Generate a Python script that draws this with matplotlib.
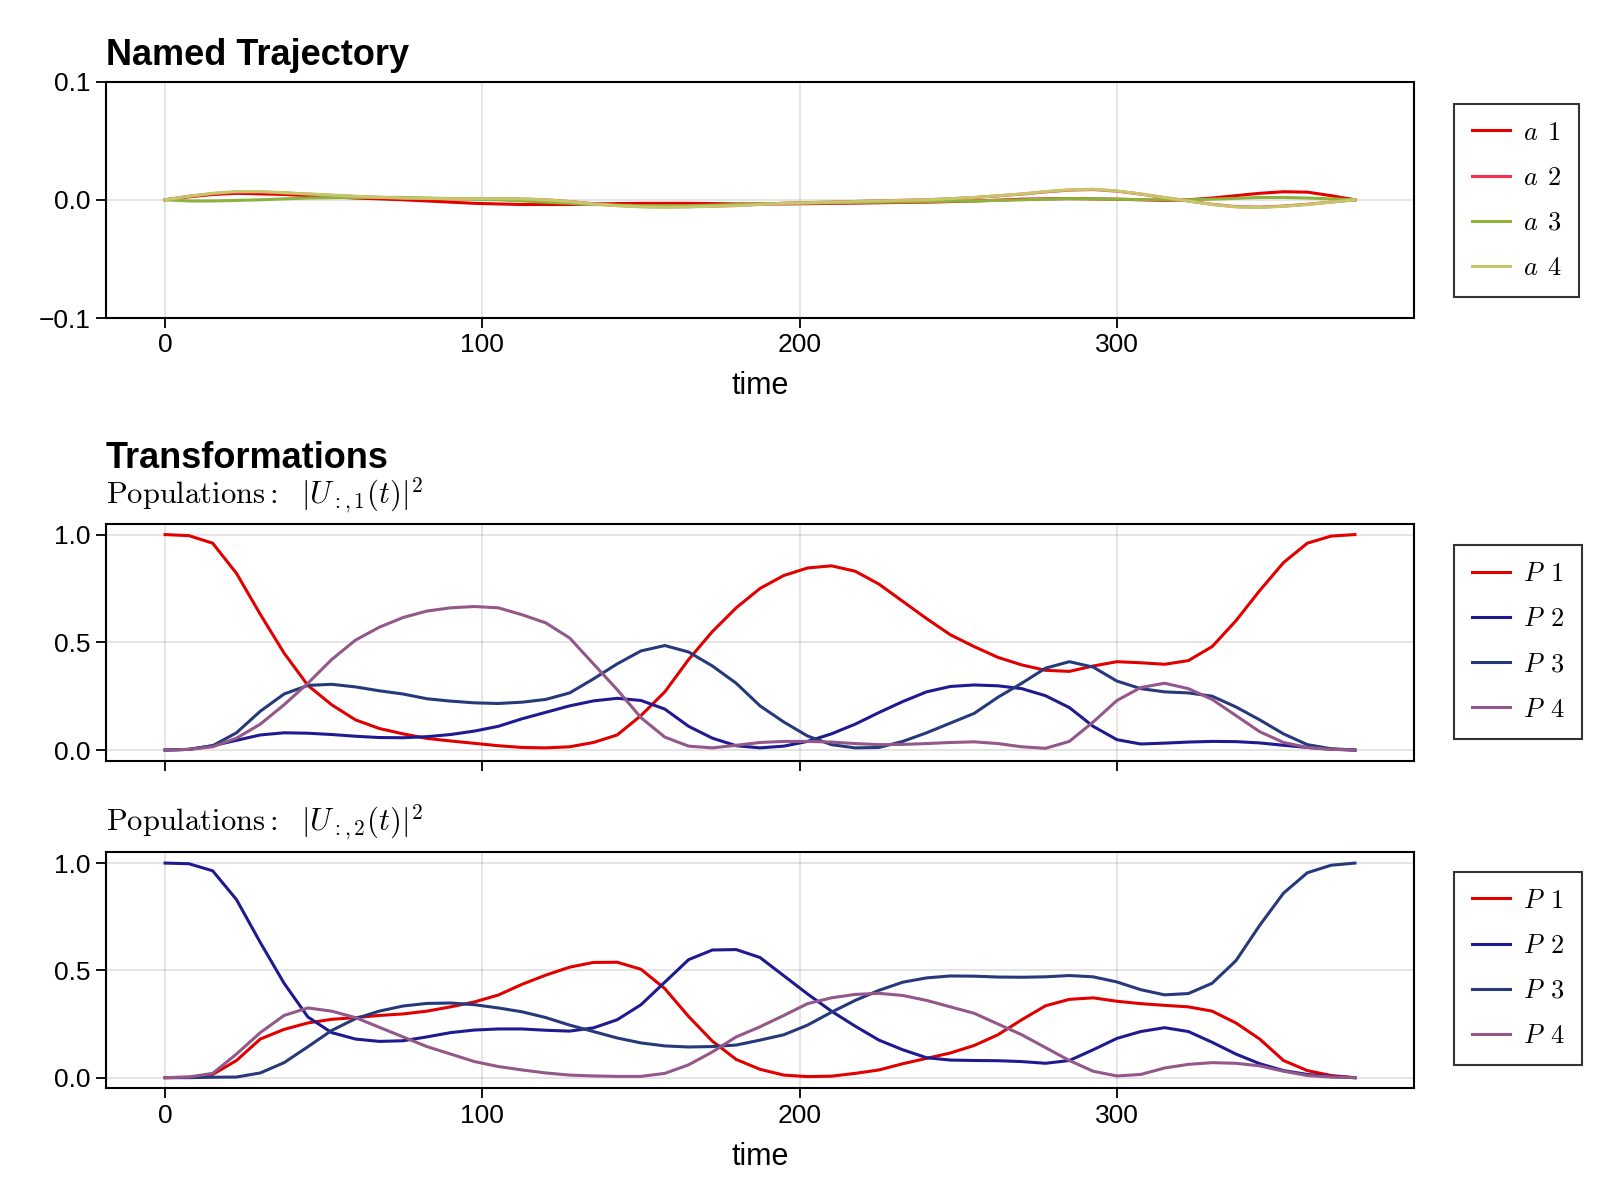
import numpy as np
import matplotlib
matplotlib.use("Agg")
import matplotlib.pyplot as plt

plt.rcParams['font.family'] = ['Liberation Sans', 'DejaVu Sans']
plt.rcParams['mathtext.fontset'] = 'cm'

# sample times
t = np.arange(0, 375.1, 7.5)

# controls (top panel), values x 1e-3
a1 = [0, 2.5, 4.5, 5.5, 5, 4.5, 3.5, 2.5, 1.5, 0.8, 0, -1, -2, -3, -3.5, -4, -4,
      -4, -3.5, -3.2, -3, -3, -3, -3.2, -3.5, -3.5, -3.5, -3.3, -3, -2.8, -2.5, -2.2,
      -2, -1.5, -1, -0.3, 0.5, 0.8, 1, 0.8, 0.5, 0, -0.5, 0, 1.5, 3.5, 5.5, 6.8,
      6.5, 3.5, 0]
a2 = [0, 3, 5.2, 6.5, 6.5, 5.8, 4.8, 3.8, 2.8, 2, 1.3, 1, 0.8, 0.8, 0.8, 0.6, 0,
      -1.5, -3.3, -4.8, -5.7, -6, -5.8, -5.3, -4.8, -3.8, -2.9, -2.4, -1.9, -1.4, -0.9, -0.4,
      0, 0.9, 1.9, 3.3, 4.8, 6.7, 8.2, 8.7, 7.3, 4.8, 1.8, -1, -3.8, -5.8, -6.2, -5.3,
      -3.8, -1.9, 0]
a3 = [0, -1, -1, -0.5, 0, 0.8, 1.5, 1.8, 2, 2, 2, 1.5, 1, 0.5, 0, -1, -2,
      -3, -4, -4.5, -5, -5, -5, -4.5, -4, -3.5, -3, -2.8, -2.5, -2.2, -2, -1.8,
      -1.5, -1.2, -1, -0.5, 0, 0.5, 1, 0.8, 0.5, 0.2, 0, 0, 0.5, 1.2, 2, 2,
      1.5, 0.8, 0]
a4 = [0, 3, 5.5, 7, 7, 6, 5, 4, 3, 2.2, 1.5, 1.2, 1, 1, 1, 0.8, 0,
      -1.5, -3.5, -5, -6, -6.3, -6, -5.5, -5, -4, -3, -2.5, -2, -1.5, -1, -0.5,
      0, 1, 2, 3.5, 5, 7, 8.5, 9, 7.5, 5, 2, -1, -4, -6, -6.5, -5.5,
      -4, -2, 0]

# populations |U_{:,1}(t)|^2
u1_p1 = [1.0, 0.995, 0.96, 0.82, 0.63, 0.45, 0.30, 0.21, 0.14, 0.10, 0.075, 0.054, 0.042,
         0.031, 0.02, 0.012, 0.01, 0.015, 0.035, 0.07, 0.16, 0.27, 0.42, 0.55, 0.66, 0.75,
         0.81, 0.845, 0.855, 0.83, 0.77, 0.69, 0.61, 0.535, 0.48, 0.43, 0.395, 0.37, 0.365,
         0.39, 0.41, 0.405, 0.398, 0.415, 0.48, 0.60, 0.74, 0.87, 0.96, 0.993, 1.0]
u1_p2 = [0, 0.003, 0.02, 0.045, 0.07, 0.08, 0.078, 0.072, 0.064, 0.058, 0.057, 0.062, 0.072,
         0.088, 0.11, 0.145, 0.175, 0.205, 0.228, 0.24, 0.23, 0.19, 0.11, 0.055, 0.02, 0.01,
         0.018, 0.04, 0.075, 0.12, 0.174, 0.225, 0.27, 0.295, 0.302, 0.298, 0.285, 0.252, 0.197,
         0.11, 0.048, 0.028, 0.032, 0.037, 0.04, 0.039, 0.033, 0.022, 0.012, 0.004, 0]
u1_p3 = [0, 0.003, 0.02, 0.08, 0.18, 0.26, 0.30, 0.305, 0.293, 0.275, 0.26, 0.238, 0.227,
         0.219, 0.216, 0.222, 0.235, 0.265, 0.33, 0.40, 0.46, 0.485, 0.455, 0.39, 0.31, 0.205,
         0.13, 0.065, 0.025, 0.01, 0.012, 0.04, 0.08, 0.125, 0.17, 0.245, 0.31, 0.38, 0.41,
         0.385, 0.32, 0.285, 0.27, 0.265, 0.25, 0.20, 0.14, 0.075, 0.025, 0.006, 0]
u1_p4 = [0, 0.003, 0.015, 0.055, 0.12, 0.21, 0.31, 0.42, 0.51, 0.57, 0.615, 0.645, 0.66,
         0.666, 0.66, 0.628, 0.59, 0.52, 0.40, 0.28, 0.15, 0.06, 0.018, 0.01, 0.022, 0.035,
         0.04, 0.04, 0.037, 0.03, 0.025, 0.026, 0.03, 0.035, 0.038, 0.03, 0.015, 0.008, 0.04,
         0.13, 0.23, 0.29, 0.31, 0.285, 0.235, 0.16, 0.085, 0.035, 0.012, 0.003, 0]

# populations |U_{:,2}(t)|^2
u2_p1 = [0, 0.002, 0.015, 0.08, 0.18, 0.225, 0.255, 0.272, 0.28, 0.29, 0.297, 0.31, 0.33,
         0.353, 0.385, 0.435, 0.478, 0.515, 0.537, 0.538, 0.505, 0.415, 0.285, 0.17, 0.085,
         0.039, 0.012, 0.005, 0.007, 0.02, 0.036, 0.065, 0.09, 0.115, 0.15, 0.20, 0.27, 0.335,
         0.365, 0.372, 0.356, 0.345, 0.337, 0.33, 0.31, 0.255, 0.18, 0.08, 0.033, 0.01, 0]
u2_p2 = [1.0, 0.997, 0.964, 0.83, 0.63, 0.44, 0.283, 0.21, 0.18, 0.169, 0.172, 0.19, 0.21,
         0.222, 0.227, 0.227, 0.221, 0.217, 0.232, 0.27, 0.34, 0.445, 0.55, 0.595, 0.597, 0.56,
         0.475, 0.39, 0.31, 0.24, 0.175, 0.13, 0.093, 0.082, 0.08, 0.079, 0.075, 0.067, 0.08,
         0.13, 0.183, 0.215, 0.233, 0.215, 0.165, 0.11, 0.065, 0.033, 0.015, 0.005, 0]
u2_p3 = [0, 0.0, 0.002, 0.003, 0.022, 0.07, 0.144, 0.22, 0.275, 0.31, 0.334, 0.346, 0.348,
         0.34, 0.325, 0.307, 0.28, 0.245, 0.215, 0.185, 0.162, 0.148, 0.143, 0.145, 0.152,
         0.175, 0.20, 0.245, 0.305, 0.36, 0.407, 0.445, 0.465, 0.474, 0.473, 0.469, 0.468,
         0.47, 0.476, 0.47, 0.446, 0.41, 0.386, 0.392, 0.44, 0.545, 0.71, 0.86, 0.955, 0.99, 1.0]
u2_p4 = [0, 0.003, 0.02, 0.11, 0.21, 0.29, 0.325, 0.31, 0.28, 0.235, 0.19, 0.145, 0.11,
         0.075, 0.052, 0.036, 0.022, 0.012, 0.008, 0.006, 0.006, 0.02, 0.06, 0.12, 0.19, 0.237,
         0.29, 0.345, 0.372, 0.388, 0.393, 0.383, 0.36, 0.33, 0.30, 0.25, 0.20, 0.14, 0.08,
         0.03, 0.008, 0.015, 0.045, 0.062, 0.07, 0.067, 0.055, 0.03, 0.01, 0.003, 0]

a_colors = ['#E50000', '#FF2E4D', '#8DB33D', '#C6C66A']
p_colors = ['#E00000', '#1F1A90', '#26397A', '#93578A']
a_labels = [r'$a\;\,1$', r'$a\;\,2$', r'$a\;\,3$', r'$a\;\,4$']
p_labels = [r'$P\;\,1$', r'$P\;\,2$', r'$P\;\,3$', r'$P\;\,4$']

fig = plt.figure(figsize=(16, 12), dpi=100)
ax1 = fig.add_axes([0.066, 0.735, 0.818, 0.197])
ax2 = fig.add_axes([0.066, 0.366, 0.818, 0.1975])
ax3 = fig.add_axes([0.066, 0.093, 0.818, 0.1967])

lw = 2.2
for vals, c, lab in zip([a1, a2, a3, a4], a_colors, a_labels):
    ax1.plot(t, np.array(vals) * 1e-3, color=c, lw=lw, label=lab)
for vals, c, lab in zip([u1_p1, u1_p2, u1_p3, u1_p4], p_colors, p_labels):
    ax2.plot(t, vals, color=c, lw=lw, label=lab)
for vals, c, lab in zip([u2_p1, u2_p2, u2_p3, u2_p4], p_colors, p_labels):
    ax3.plot(t, vals, color=c, lw=lw, label=lab)

for ax in [ax1, ax2, ax3]:
    ax.set_xlim(-18.75, 393.75)
    ax.set_xticks([0, 100, 200, 300])
    ax.grid(True, color='#000000', alpha=0.12, lw=1.2)
    ax.set_axisbelow(True)
    ax.tick_params(labelsize=19, length=7, width=1.3, pad=4)
    for s in ax.spines.values():
        s.set_linewidth(1.5)

ax1.set_ylim(-0.1, 0.1)
ax1.set_yticks([-0.1, 0.0, 0.1])
ax1.set_yticklabels(['\u22120.1', '0.0', '0.1'])
for ax in [ax2, ax3]:
    ax.set_ylim(-0.05, 1.05)
    ax.set_yticks([0.0, 0.5, 1.0])
    ax.set_yticklabels(['0.0', '0.5', '1.0'])
ax2.set_xticklabels([])
ax1.set_xlabel('time', fontsize=22, labelpad=10)
ax3.set_xlabel('time', fontsize=22, labelpad=10)

fig.text(0.066, 0.946, 'Named Trajectory', fontsize=26, fontweight='bold', va='baseline')
fig.text(0.066, 0.610, 'Transformations', fontsize=26, fontweight='bold', va='baseline')
fig.text(0.066, 0.580, r'$\mathrm{Populations:}\ \ |U_{:,1}(t)|^2$', fontsize=22, va='baseline')
fig.text(0.066, 0.307, r'$\mathrm{Populations:}\ \ |U_{:,2}(t)|^2$', fontsize=22, va='baseline')

leg_kw = dict(loc='center left', bbox_transform=fig.transFigure, fontsize=19,
              frameon=True, fancybox=False, edgecolor='black', handlelength=1.45,
              labelspacing=0.8, borderpad=0.65, handletextpad=0.5, borderaxespad=0)
for ax, yc in [(ax1, 0.833), (ax2, 0.465), (ax3, 0.193)]:
    leg = ax.legend(bbox_to_anchor=(0.909, yc), **leg_kw)
    leg.get_frame().set_linewidth(1.5)

fig.savefig('out.png', dpi=100)
